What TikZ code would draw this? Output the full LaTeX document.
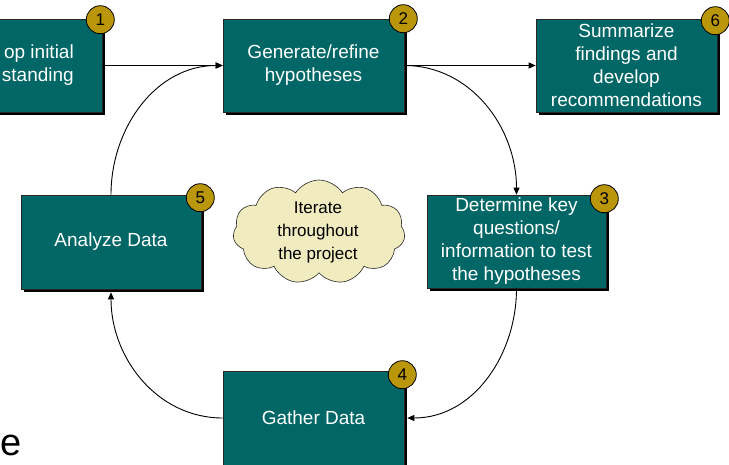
\documentclass[tikz,border=0pt]{standalone}
\usepackage{fontspec}
\setmainfont{Liberation Sans}
\usetikzlibrary{arrows.meta,shapes.symbols,shadows}
\definecolor{tealbox}{RGB}{0,102,102}
\definecolor{goldbadge}{RGB}{185,150,10}
\definecolor{cloudfill}{RGB}{240,236,192}
\begin{document}
\begin{tikzpicture}[x=1pt,y=1pt,
  box/.style={draw=black!85, line width=0.6pt, fill=tealbox, text=white,
    minimum width=181pt, minimum height=93pt, inner sep=0pt, align=center,
    font=\fontsize{19}{23}\selectfont,
    drop shadow={shadow xshift=3pt,shadow yshift=-3pt,opacity=1,fill=black}},
  boxtext/.style={text=white, inner sep=0pt, font=\fontsize{19}{23}\selectfont},
  badge/.style={circle, draw=black, line width=0.8pt, fill=goldbadge,
    minimum size=28pt, inner sep=0pt, font=\fontsize{17}{17}\selectfont},
  conn/.style={line width=0.9pt, draw=black, -{Triangle[length=7pt,width=6pt]}}]
\useasboundingbox (0,0) rectangle (729,-465);
\clip (0,0) rectangle (729,-465);

% boxes
\node[box] (b1) at (11.5,-65.5) {};
\node[boxtext, anchor=east, align=right] (t1) at (74,-65.5) {op initial\\standing};
\node[box] (b2) at (313.5,-65.5) {Generate/refine\\hypotheses};
\node[box] (b6) at (626.5,-65.5) {Summarize\\findings and\\develop\\recommendations};
\node[box, minimum width=180pt, minimum height=94pt] (b5) at (111,-242) {Analyze Data};
\node[box, minimum width=179pt] (b3) at (516.5,-241.5) {Determine key\\questions/\\information to test\\the hypotheses};
\node[box, minimum height=94pt] (b4) at (313.5,-418) {Gather Data};

% cloud
\node[cloud, cloud puffs=11, cloud puff arc=115, aspect=1.6, draw=black!85,
  line width=0.6pt, fill=cloudfill, minimum width=172pt, minimum height=104pt,
  inner sep=0pt] (c) at (319,-232) {};
\node[inner sep=0pt, align=center, font=\fontsize{17}{23}\selectfont] (ct) at (318,-232) {Iterate\\throughout\\the project};

% connectors
\draw[conn] (b1.east) -- (b2.west);
\draw[conn] (b2.east) -- (b6.west);
\draw[conn] (b2.east) to[out=0,in=90] (b3.north);
\draw[conn] (b3.south) to[out=-90,in=0] ([xshift=3pt]b4.east);
\draw[conn] (b4.west) to[out=180,in=-90] ([yshift=-3pt]b5.south);
\draw[conn] (b5.north) to[out=90,in=180] (b2.west);

% badges
\node[badge] (n1) at ([shift={(-2,-1)}]b1.north east) {1};
\node[badge] (n2) at ([shift={(-1,0)}]b2.north east) {2};
\node[badge] (n6) at ([shift={(-2,-2)}]b6.north east) {6};
\node[badge] (n5) at ([shift={(-1,-3)}]b5.north east) {5};
\node[badge] (n3) at ([shift={(-2,-4)}]b3.north east) {3};
\node[badge] (n4) at ([shift={(-2,-4)}]b4.north east) {4};

% cut-off title letter
\node[anchor=base west, inner sep=0pt, font=\fontsize{38}{38}\selectfont] (e) at (0.5,-455) {e};
\end{tikzpicture}
\end{document}
